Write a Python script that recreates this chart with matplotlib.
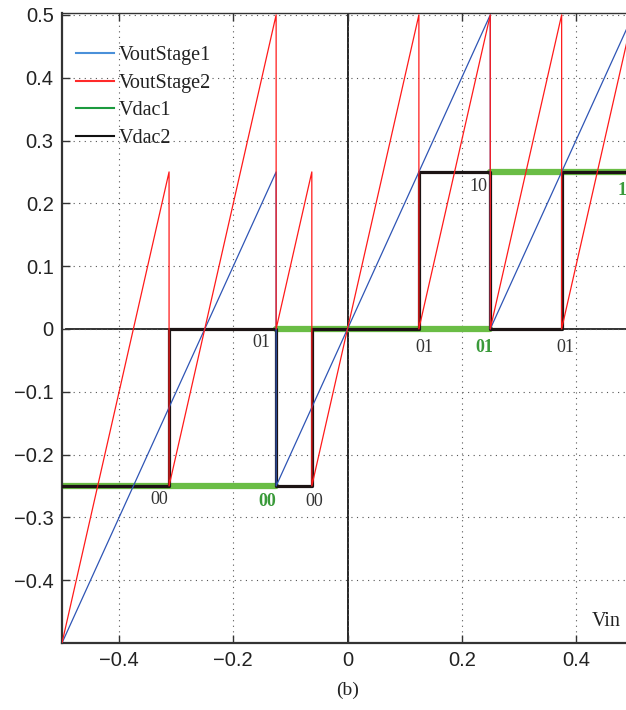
import numpy as np
import matplotlib
matplotlib.use("Agg")
import matplotlib.pyplot as plt
from matplotlib.lines import Line2D

# breakpoints (Vin on x)
stage1_x = [-0.5, -0.125, -0.125, 0.25, 0.25, 0.5]
stage1_y = [-0.5, 0.25, -0.25, 0.5, 0.0, 0.5]

stage2_x = [-0.5, -0.3125, -0.3125, -0.125, -0.125, -0.0625, -0.0625,
            0.125, 0.125, 0.25, 0.25, 0.375, 0.375, 0.5]
stage2_y = [-0.5, 0.25, -0.25, 0.5, 0.0, 0.25, -0.25,
            0.5, 0.0, 0.5, 0.0, 0.5, 0.0, 0.5]

dac1_x = [-0.5, -0.125, np.nan, -0.125, 0.25, np.nan, 0.25, 0.5]
dac1_y = [-0.25, -0.25, np.nan, 0.0, 0.0, np.nan, 0.25, 0.25]

dac2_x = [-0.5, -0.3125, -0.3125, -0.125, -0.125, -0.0625, -0.0625,
          0.125, 0.125, 0.25, 0.25, 0.375, 0.375, 0.5]
dac2_y = [-0.25, -0.25, 0.0, 0.0, -0.25, -0.25, 0.0,
          0.0, 0.25, 0.25, 0.0, 0.0, 0.25, 0.25]

# code labels next to the steps (centre positions)
code_text = ["01", "01", "01", "01", "10", "10", "00", "00", "00"]
code_x = [-0.151, 0.135, 0.240, 0.382, 0.230, 0.488, -0.330, -0.140, -0.058]
code_y = [-0.021, -0.030, -0.030, -0.030, 0.227, 0.220, -0.272, -0.275, -0.275]
code_green = [False, False, True, False, False, True, False, True, False]

xticks = [-0.4, -0.2, 0, 0.2, 0.4]
yticks = [-0.4, -0.3, -0.2, -0.1, 0, 0.1, 0.2, 0.3, 0.4, 0.5]

serif = "Liberation Serif"
sans = "Liberation Sans"

fig = plt.figure(figsize=(6.26, 7.10), dpi=100)
ax = fig.add_axes([62 / 626, 1 - 643 / 710, 1 - 62 / 626, (643 - 13) / 710])

# reference lines through the origin
ax.axhline(0, xmin=0.007, color="#222222", lw=1.3, zorder=1.5)
ax.axvline(0, color="black", lw=1.2, zorder=1.5)

ax.plot(dac1_x, dac1_y, color="#6abd45", lw=4.5, solid_capstyle="round", zorder=2)
ax.plot(dac2_x, dac2_y, color="#1c1414", lw=2.3, zorder=3)
ax.plot(stage1_x, stage1_y, color="#2f55b5", lw=0.9, zorder=4)
ax.plot(stage2_x, stage2_y, color="#ff1a1a", lw=0.9, zorder=5)

for t, x, y, g in zip(code_text, code_x, code_y, code_green):
    if g:
        ax.text(x, y, t, color="#3a9a3a", fontweight="bold", fontsize=13,
                family=serif, ha="center", va="center")
    else:
        ax.text(x, y, t, color="#333333", fontsize=13, family=serif,
                ha="center", va="center")

ax.text(0.453, -0.466, "Vin", fontsize=14.5, family=serif, color="#222222",
        ha="center", va="center")
fig.text(348 / 626, 1 - 690 / 710, "(b)", fontsize=14, family=serif,
         color="#222222", ha="center", va="center")

ax.set_xlim(-0.5, 0.4877)
ax.set_ylim(-0.5, 0.503)
ax.set_xticks(xticks)
ax.set_yticks(yticks)
ax.set_xticklabels(["\u22120.4", "\u22120.2", "0", "0.2", "0.4"])
ax.set_yticklabels(["\u22120.4", "\u22120.3", "\u22120.2", "\u22120.1", "0",
                    "0.1", "0.2", "0.3", "0.4", "0.5"])
for lab in ax.get_xticklabels() + ax.get_yticklabels():
    lab.set_family(sans)
    lab.set_fontsize(14.5)
    lab.set_color("#222222")
ax.tick_params(direction="in", length=6, width=1.0, color="#333333", pad=6,
               top=True)
ax.grid(True, linestyle=(0, (1, 4)), color="#555555", linewidth=0.8)

ax.spines["right"].set_visible(False)
ax.spines["left"].set_linewidth(1.6)
ax.spines["bottom"].set_linewidth(1.6)
ax.spines["top"].set_linewidth(1.0)
for s in ax.spines.values():
    s.set_color("#333333")

# legend colours differ slightly from the plotted lines
handles = [Line2D([], [], color="#4a90d9", lw=1.5),
           Line2D([], [], color="#ff2a2a", lw=1.5),
           Line2D([], [], color="#1b9a3e", lw=1.5),
           Line2D([], [], color="#111111", lw=1.5)]
leg = ax.legend(handles, ["VoutStage1", "VoutStage2", "Vdac1", "Vdac2"],
                loc="upper left", bbox_to_anchor=(0.0, 0.97), frameon=False,
                prop={"family": serif, "size": 14.5}, handlelength=1.9,
                handletextpad=0.2, labelspacing=0.42, borderaxespad=0.3)
for t in leg.get_texts():
    t.set_color("#222222")

fig.savefig("out.png", dpi=100)
